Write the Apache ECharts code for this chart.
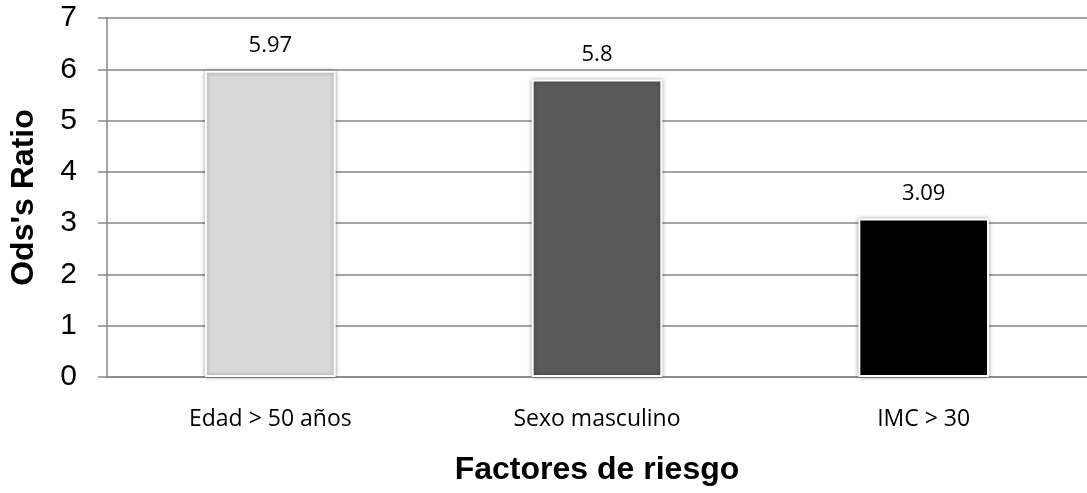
<!DOCTYPE html>
<html>
<head>
<meta charset="utf-8">
<script src="https://cdn.jsdelivr.net/npm/echarts@6/dist/echarts.min.js"></script>
<style>
  html, body { margin: 0; padding: 0; background: #fff; }
  #chart { width: 1087px; height: 493px; }
</style>
</head>
<body>
<div id="chart"></div>
<script>
// Risk factors and their odds ratios
const categories = ['Edad > 50 años', 'Sexo masculino', 'IMC > 30'];
const oddsRatios = [5.97, 5.8, 3.09];
const barColors = ['#d9d9d9', '#595959', '#000000'];
const yTicks = [0, 1, 2, 3, 4, 5, 6, 7];

const gridColor = '#868686';

const chart = echarts.init(document.getElementById('chart'));
chart.setOption({
  animation: false,
  backgroundColor: '#fff',
  grid: { left: 106, right: 0, top: 18, bottom: 116, containLabel: false },
  xAxis: {
    type: 'category',
    data: categories,
    name: 'Factores de riesgo',
    nameLocation: 'middle',
    nameGap: 77,
    nameTextStyle: { fontFamily: 'Liberation Sans', fontWeight: 'bold', fontSize: 32, color: '#000' },
    axisLine: { lineStyle: { color: gridColor, width: 1.5 } },
    axisTick: { show: false },
    axisLabel: { margin: 31, fontFamily: 'Open Sans', fontSize: 23, color: '#000' }
  },
  yAxis: {
    type: 'value',
    min: yTicks[0],
    max: yTicks[yTicks.length - 1],
    interval: 1,
    name: "Ods's Ratio",
    nameLocation: 'middle',
    nameGap: 67,
    nameTextStyle: { fontFamily: 'Liberation Sans', fontWeight: 'bold', fontSize: 32, color: '#000' },
    axisLine: { show: true, lineStyle: { color: gridColor, width: 1.5 } },
    axisTick: { show: true, length: 9, lineStyle: { color: gridColor, width: 1.5 } },
    axisLabel: { margin: 30, fontFamily: 'Liberation Sans', fontSize: 30, color: '#000' },
    splitLine: { lineStyle: { color: gridColor, width: 1.5 } }
  },
  series: [{
    type: 'bar',
    data: oddsRatios.map((v, i) => ({ value: v, itemStyle: { color: barColors[i] } })),
    barWidth: '40%',
    itemStyle: {
      borderColor: '#ffffff',
      borderWidth: 2,
      shadowBlur: 4,
      shadowColor: 'rgba(0,0,0,0.35)'
    },
    label: {
      show: true,
      position: 'top',
      distance: 14,
      fontFamily: 'Open Sans',
      fontSize: 22,
      color: '#000'
    }
  }]
});
</script>
</body>
</html>
